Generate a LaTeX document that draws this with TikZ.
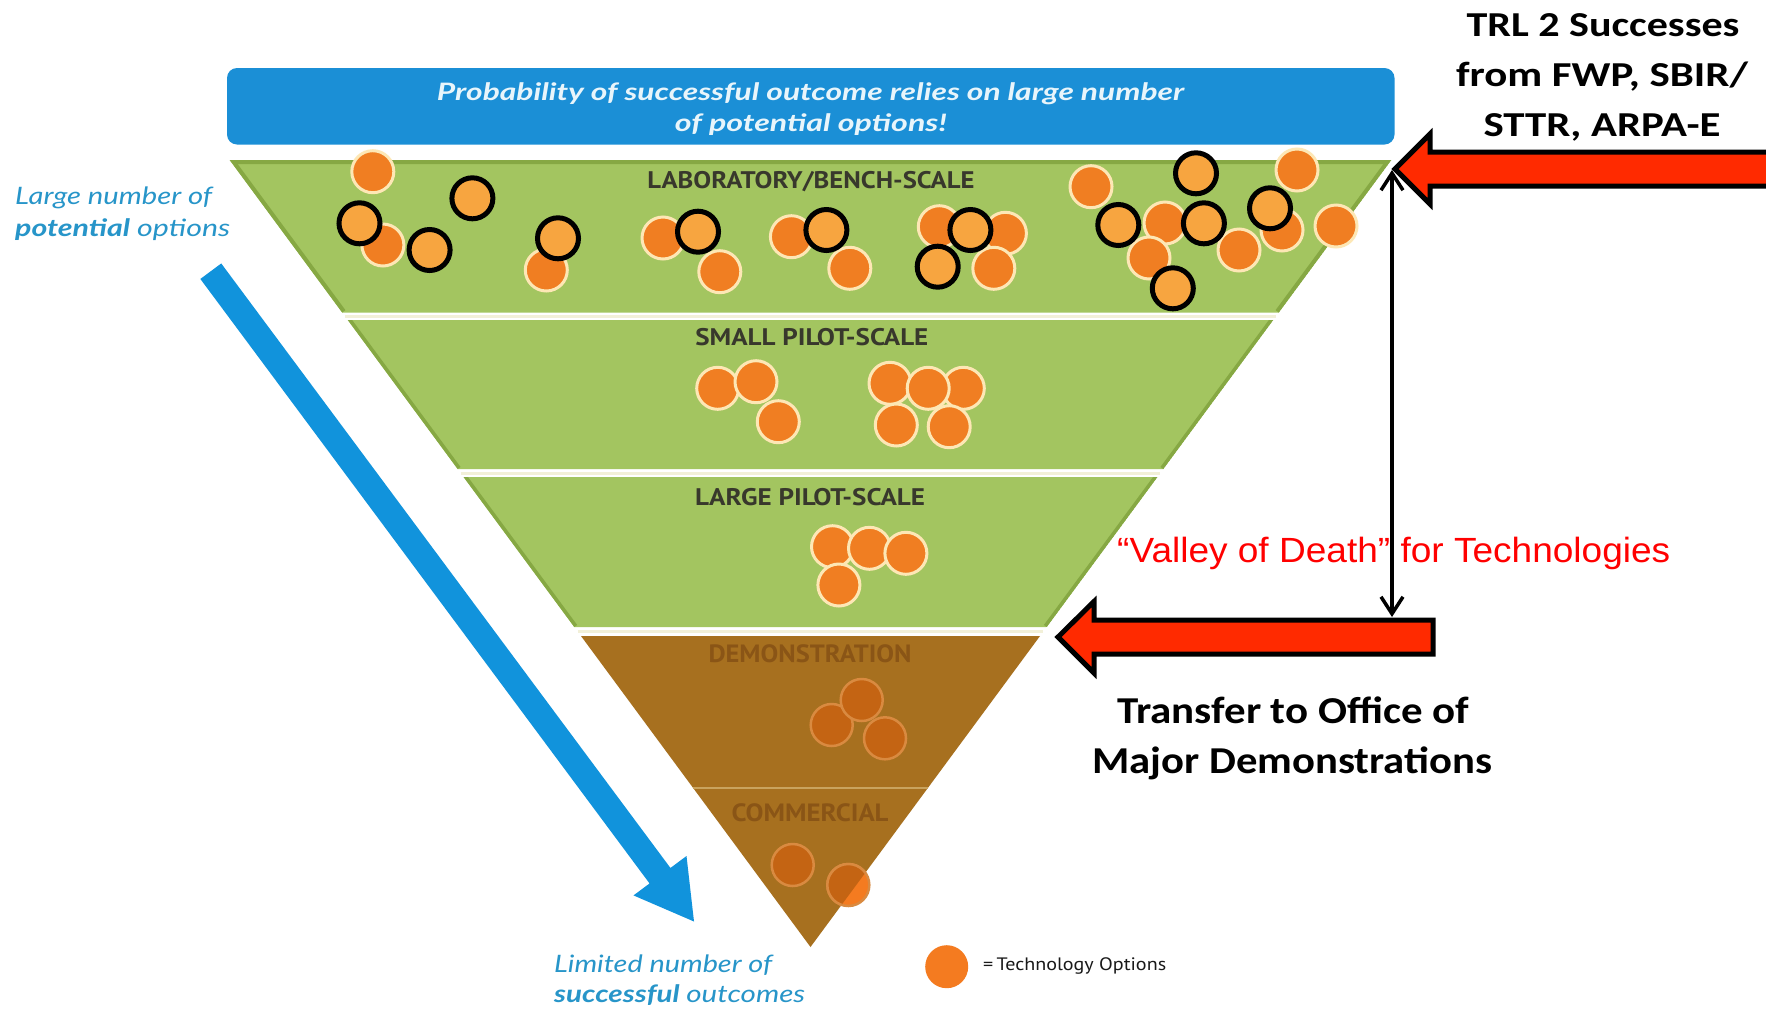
\documentclass[tikz,border=0pt]{standalone}
\usepackage{fontspec}
\usepackage{graphicx}
\setmainfont{Carlito}
\newfontfamily\latofont{Lato}
\newfontfamily\ptfont{PT Sans}
\newfontfamily\arialfont{Liberation Sans}
\usetikzlibrary{arrows.meta}

% squeeze or stretch a line horizontally to a given width
\newcommand{\fitto}[2]{\resizebox{#1}{\height}{#2}}

\definecolor{bannerblue}{HTML}{1B8FD6}
\definecolor{arrowblue}{HTML}{1193DC}
\definecolor{bandgreen}{HTML}{A3C560}
\definecolor{edgegreen}{HTML}{86A843}
\definecolor{brownfill}{HTML}{A7701F}
\definecolor{brownline}{HTML}{C9A35E}
\definecolor{demotext}{HTML}{8A5516}
\definecolor{labtext}{HTML}{38382C}
\definecolor{creamline}{HTML}{F2F0D8}
\definecolor{orangeA}{HTML}{F07E22}
\definecolor{creamB}{HTML}{FDE7B5}
\definecolor{orangeL}{HTML}{F7A540}
\definecolor{orangeD}{HTML}{C46413}
\definecolor{orangeE}{HTML}{D98A40}
\definecolor{legorange}{HTML}{F47B20}
\definecolor{arrowred}{HTML}{FF2A00}
\definecolor{textblue}{HTML}{2795C9}
\definecolor{bannertext}{HTML}{E8F5FB}

\begin{document}
\begin{tikzpicture}[x=1pt,y=-1pt,
  lbl/.style={inner sep=0pt, anchor=base},
  plain/.style={fill=orangeA, draw=creamB, line width=3pt},
  marked/.style={fill=orangeL, draw=black, line width=5pt},
  dim/.style={fill=orangeD, draw=orangeE, line width=2.5pt},
  redarrow/.style={fill=arrowred, draw=black, line width=5pt, line join=miter},
  bandtitle/.style={lbl, text=labtext},
  bluetext/.style={lbl, anchor=base west, text=textblue}]

\useasboundingbox (0,0) rectangle (1766,1010);
\fill[white] (0,0) rectangle (1766,1010);

% ---- banner ----
\fill[bannerblue, rounded corners=10pt] (227,68) rectangle (1394.5,144.5);
\node[lbl, text=bannertext] (ban1) at (810.5,100.5)
  {\fitto{747pt}{\latofont\bfseries\itshape\fontsize{24}{28}\selectfont Probability of successful outcome relies on large number}};
\node[lbl, text=bannertext] (ban2) at (810.9,131)
  {\fitto{272pt}{\latofont\bfseries\itshape\fontsize{24}{28}\selectfont of potential options!}};

% ---- funnel bands ----
% laboratory band
\begin{scope}
  \clip (229.7,160) -- (1391.3,160) -- (1278.8,312.5) -- (342.2,312.5) -- cycle;
  \fill[bandgreen] (229.7,160) -- (1391.3,160) -- (1278.8,312.5) -- (342.2,312.5) -- cycle;
  \draw[edgegreen, line width=8pt] (342.2,312.5) -- (229.7,160) -- (1391.3,160) -- (1278.8,312.5);
\end{scope}
% small pilot band
\begin{scope}
  \clip (347.8,320) -- (1273.2,320) -- (1163.3,469) -- (457.7,469) -- cycle;
  \fill[bandgreen] (347.8,320) -- (1273.2,320) -- (1163.3,469) -- (457.7,469) -- cycle;
  \draw[edgegreen, line width=7pt] (457.7,469) -- (347.8,320);
  \draw[edgegreen, line width=7pt] (1273.2,320) -- (1163.3,469);
\end{scope}
% large pilot band
\begin{scope}
  \clip (463.6,477) -- (1157.4,477) -- (1046.7,627) -- (574.3,627) -- cycle;
  \fill[bandgreen] (463.6,477) -- (1157.4,477) -- (1046.7,627) -- (574.3,627) -- cycle;
  \draw[edgegreen, line width=7pt] (574.3,627) -- (463.6,477);
  \draw[edgegreen, line width=7pt] (1157.4,477) -- (1046.7,627);
\end{scope}
% demonstration + commercial
\fill[brownfill] (581,636) -- (1040,636) -- (810.5,947) -- cycle;
\draw[brownline, line width=2.5pt] (693.2,788) -- (927.8,788);

% separators between bands
\draw[creamline, line width=3pt] (345,316.2) -- (1276,316.2);
\draw[creamline, line width=3pt] (460.6,473) -- (1160.4,473);
\draw[creamline, line width=3pt] (577.6,631.5) -- (1043.4,631.5);

% ---- band titles ----
\node[bandtitle] (labt) at (811,188.5)
  {\fitto{327pt}{\ptfont\bfseries\fontsize{24}{28}\selectfont LABORATORY/BENCH-SCALE}};
\node[bandtitle] (smallt) at (811.8,345)
  {\fitto{233pt}{\ptfont\bfseries\fontsize{24}{28}\selectfont SMALL PILOT-SCALE}};
\node[bandtitle] (larget) at (810,505)
  {\fitto{230pt}{\ptfont\bfseries\fontsize{24}{28}\selectfont LARGE PILOT-SCALE}};
\node[lbl, text=demotext] (demot) at (810,662)
  {\fitto{203pt}{\ptfont\bfseries\fontsize{25}{28}\selectfont DEMONSTRATION}};
\node[lbl, text=demotext] (commt) at (810,821)
  {\fitto{157pt}{\ptfont\bfseries\fontsize{25}{28}\selectfont COMMERCIAL}};

% ---- technology options ----
\foreach \x/\y in {372.8/171.7, 382.9/245, 546.3/270, 663/238, 719.8/271.7,
    791.4/236.7, 849.8/268.3, 939.3/226.7, 1005.4/233.3, 993.8/268.3,
    1091/186.7, 1165/223, 1149/258, 1239/250, 1282/230, 1297/170, 1336/226}
  \draw[plain] (\x,\y) circle[radius=21pt];
\foreach \x/\y in {359.5/223.3, 472.4/198.3, 429.6/250, 558/238.3, 698/231.7,
    826.4/230, 970.4/230, 937.7/266.7, 1118.3/225, 1196/173.3,
    1203.9/223.3, 1270/208.3, 1172.8/288.3}
  \draw[marked] (\x,\y) circle[radius=20.5pt];
\foreach \x/\y in {717.7/388.3, 756/381.7, 778.3/421.7, 890/383.3, 963.3/388.3,
    928.2/388.3, 896.3/425, 949.2/426.7,
    832.5/546.7, 869.5/548.3, 905.9/553.3, 838.9/585}
  \draw[plain] (\x,\y) circle[radius=21pt];
\foreach \x/\y in {831.7/725, 861.7/700, 885/738.3, 792.7/865}
  \draw[dim] (\x,\y) circle[radius=21pt];
% the last commercial option pokes out of the funnel
\draw[fill=legorange, draw=orangeE, line width=2.5pt] (848.3,885) circle[radius=21pt];
\begin{scope}
  \clip (581,636) -- (1040,636) -- (810.5,947) -- cycle;
  \draw[dim] (848.3,885) circle[radius=21pt];
\end{scope}

% ---- side captions ----
\node[bluetext] (left1) at (15,204.5)
  {\fitto{197pt}{\latofont\itshape\fontsize{24}{28}\selectfont Large number of}};
\node[bluetext] (left2) at (15,236.7)
  {\fitto{215pt}{\latofont\itshape\fontsize{24}{28}\selectfont{\bfseries potential} options}};
\node[bluetext] (bot1) at (554,972)
  {\fitto{218pt}{\latofont\itshape\fontsize{24}{28}\selectfont Limited number of}};
\node[bluetext] (bot2) at (554,1002)
  {\fitto{251pt}{\latofont\itshape\fontsize{24}{28}\selectfont{\bfseries successful} outcomes}};

% blue trend arrow
\fill[arrowblue] (221.24,263.45) -- (670.44,867.95) -- (686.5,856.0) -- (694.0,921.5)
  -- (633.5,895.4) -- (649.56,883.45) -- (200.36,278.95) -- cycle;

% legend
\node[circle, fill=legorange, minimum size=43pt, inner sep=0pt] (legdot) at (946.7,966.7) {};
\node[lbl, anchor=base west, text=black!90] (legtxt) at (983,970)
  {\fitto{183pt}{\ptfont\fontsize{18}{20}\selectfont =\,Technology Options}};

% ---- right-hand annotations ----
\node[lbl] (trl1) at (1603,36.7)
  {\fitto{273pt}{\bfseries\fontsize{35}{40}\selectfont TRL 2 Successes}};
\node[lbl] (trl2) at (1602,86.7)
  {\fitto{292pt}{\bfseries\fontsize{35}{40}\selectfont from FWP, SBIR/}};
\node[lbl] (trl3) at (1602,136.7)
  {\fitto{237pt}{\bfseries\fontsize{35}{40}\selectfont STTR, ARPA-E}};

\draw[redarrow] (1395,169) -- (1430,134) -- (1430,152) -- (1790,152) -- (1790,186)
  -- (1430,186) -- (1430,204) -- cycle;
\draw[redarrow] (1058,637) -- (1094,601.5) -- (1094,620) -- (1433,620) -- (1433,654)
  -- (1094,654) -- (1094,673) -- cycle;

\node[lbl, anchor=base west, text=red] (valley) at (1117,562)
  {\fitto{553pt}{\arialfont\fontsize{35}{40}\selectfont “Valley of Death” for Technologies}};

\coordinate (vtop) at (1392,170);
\coordinate (vbot) at (1392,617);
\draw[line width=3.5pt, {Straight Barb[length=17pt,width=22pt]}-{Straight Barb[length=17pt,width=22pt]}]
  (vtop) -- (vbot);

\node[lbl] (tr1) at (1293.3,723)
  {\fitto{352pt}{\bfseries\fontsize{38}{44}\selectfont Transfer to Office of}};
\node[lbl] (tr2) at (1292.2,773)
  {\fitto{400pt}{\bfseries\fontsize{38}{44}\selectfont Major Demonstrations}};

\end{tikzpicture}
\end{document}
